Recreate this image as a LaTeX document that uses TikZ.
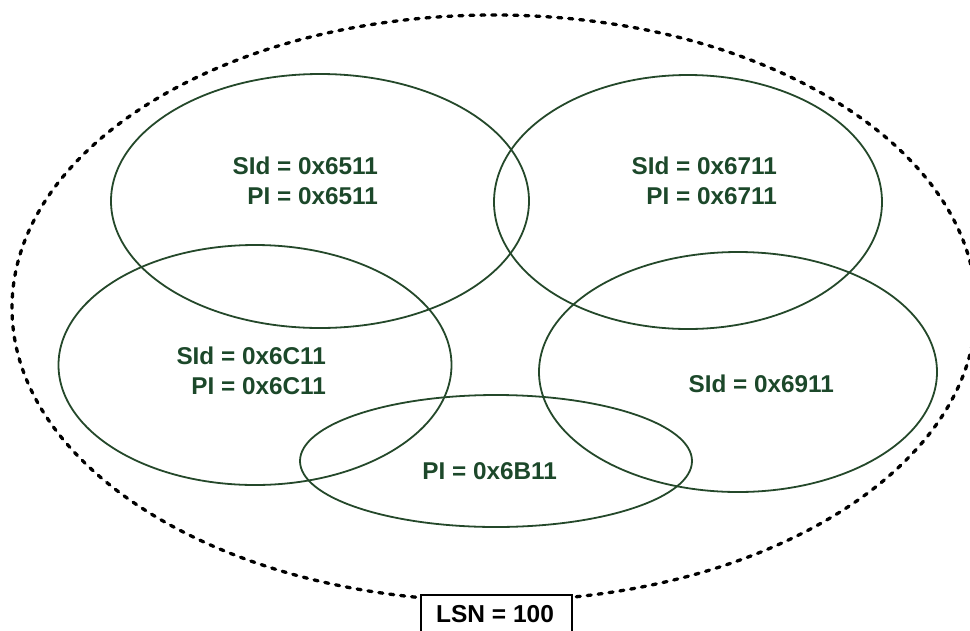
\documentclass[tikz,border=0pt]{standalone}
\usepackage{fontspec}
\setmainfont{Liberation Sans}
\usetikzlibrary{shapes.geometric}
\definecolor{txtgreen}{RGB}{28,72,42}
\definecolor{linegreen}{RGB}{36,72,42}
\begin{document}
\begin{tikzpicture}[x=1pt,y=-1pt,
  ell/.style={draw=linegreen, line width=1.8pt, ellipse, inner sep=0pt},
  lbl/.style={text=txtgreen, font=\fontsize{24.3}{30}\selectfont\bfseries, inner sep=0pt, anchor=base east},
  outer/.style={draw=black, line width=3.3pt, dash pattern=on 4pt off 7pt, line cap=round, ellipse, inner sep=0pt},
  lsnbox/.style={draw=black, fill=white, line width=1.8pt, minimum width=151pt, minimum height=50pt, inner sep=0pt},
  lsntxt/.style={text=black, font=\fontsize{24.5}{30}\selectfont\bfseries, inner sep=0pt, anchor=base}
]
\useasboundingbox (0,0) rectangle (970,630);
\node[outer, minimum width=964pt, minimum height=586pt] (lsnset) at (494,308) {};
\node[ell, minimum width=418pt, minimum height=254pt] (e6511) at (320,201) {};
\node[ell, minimum width=388pt, minimum height=254pt] (e6711) at (688,202) {};
\node[ell, minimum width=393pt, minimum height=240pt] (e6C11) at (255,365) {};
\node[ell, minimum width=398pt, minimum height=240pt] (e6911) at (738,372) {};
\node[ell, minimum width=392pt, minimum height=132pt] (e6B11) at (496,461) {};
\node[lbl] (s6511) at (378,174) {SId = 0x6511};
\node[lbl] (p6511) at (378,204) {PI = 0x6511};
\node[lbl] (s6711) at (777,174) {SId = 0x6711};
\node[lbl] (p6711) at (777,204) {PI = 0x6711};
\node[lbl] (s6C11) at (326,364) {SId = 0x6C11};
\node[lbl] (p6C11) at (326,394) {PI = 0x6C11};
\node[lbl] (s6911) at (834,392) {SId = 0x6911};
\node[lbl] (p6B11) at (557,479) {PI = 0x6B11};
\node[lsnbox] (lsn) at (496.5,620) {};
\node[lsntxt] (lsnlabel) at (495,622) {LSN = 100};
\end{tikzpicture}
\end{document}
